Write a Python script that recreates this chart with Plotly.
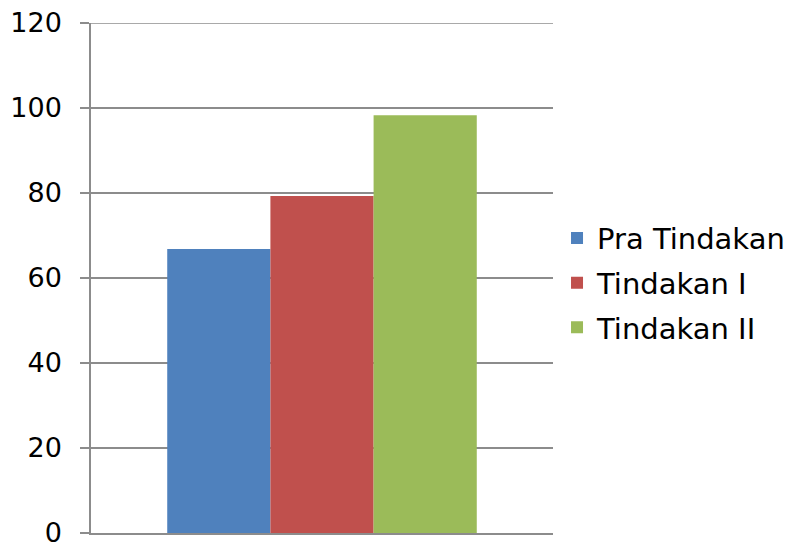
import plotly.graph_objects as go

series = ["Pra Tindakan", "Tindakan I", "Tindakan II"]
values = [66.8, 79.3, 98.3]
colors = ["#4F81BD", "#C0504D", "#9BBB59"]
category = [""]
y_ticks = [0, 20, 40, 60, 80, 100, 120]
y_max = 120

fig = go.Figure()
for i, (name, v, c) in enumerate(zip(series, values, colors)):
    fig.add_trace(go.Bar(x=category, y=[v], name=name, marker=dict(color=c, line=dict(width=0)),
                         legendgroup=name))

grid_color = "#8c8c8c"
fig.update_layout(
    width=792, height=544,
    margin=dict(l=91, r=239, t=23, b=11, autoexpand=False),
    paper_bgcolor="white", plot_bgcolor="white",
    barmode="group", bargap=0.33, bargroupgap=0,
    font=dict(family="DejaVu Sans", color="black"),
    legend=dict(x=1.0087, xanchor="left", y=0.49, yanchor="middle",
                font=dict(family="DejaVu Sans", size=29, color="black"),
                traceorder="grouped", tracegroupgap=4, bgcolor="rgba(0,0,0,0)"),
    showlegend=True,
)
# top gridline at the range edge
fig.add_shape(type="line", xref="paper", yref="y", x0=0, x1=1, y0=y_max, y1=y_max,
              line=dict(color=grid_color, width=1.5), layer="below")
fig.update_yaxes(range=[0, y_max], tickvals=y_ticks, showgrid=True, gridcolor=grid_color, gridwidth=1.5,
                 showline=True, linecolor=grid_color, linewidth=1.5, ticks="outside", ticklen=9,
                 tickcolor=grid_color, tickwidth=1.5, tickfont=dict(size=27, family="DejaVu Sans", color="black"),
                 ticklabelstandoff=13, ticklabeloverflow="allow", zeroline=False, automargin=False)
fig.update_xaxes(showticklabels=False, showline=True, linecolor=grid_color, linewidth=1.5, ticks="",
                 showgrid=False, automargin=False)

fig.write_html("out.html")
